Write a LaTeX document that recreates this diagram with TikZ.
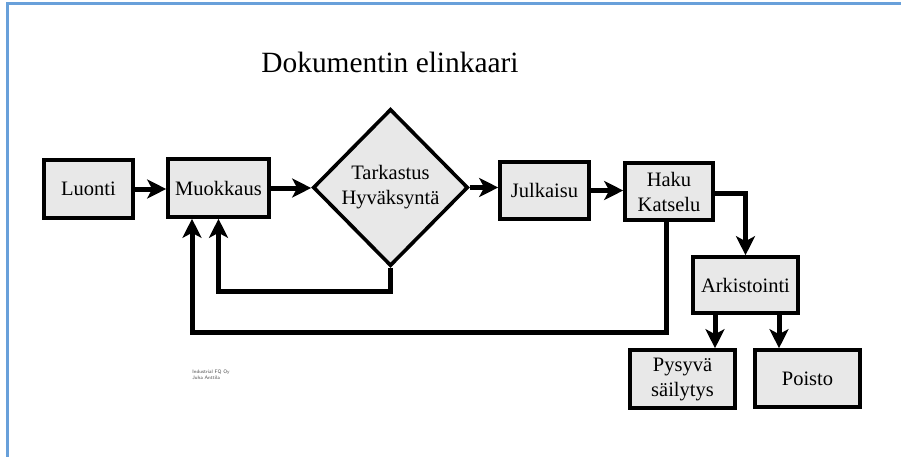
\documentclass[tikz,border=0pt]{standalone}
\usepackage{fontspec}
\setmainfont{Liberation Serif}
\usetikzlibrary{shapes.geometric,arrows.meta}
\definecolor{frameblue}{RGB}{104,160,218}
\definecolor{boxfill}{RGB}{232,232,232}
\begin{document}
\begin{tikzpicture}[x=1pt,y=-1pt,
  box/.style={draw=black,line width=3.6pt,fill=boxfill,inner sep=0pt,align=center,
    font=\fontsize{20.5}{25}\selectfont},
  dia/.style={box,shape=diamond},
  arr/.style={line width=5pt,line join=miter,-{Stealth[length=19pt,width=19pt,inset=5pt]}},
  lbl/.style={font=\fontsize{29.4}{34}\selectfont,inner sep=0pt}]
\useasboundingbox (0,0) rectangle (901,457);
\fill[white] (0,0) rectangle (901,457);
\draw[frameblue,line width=3pt] (7.5,457) -- (7.5,3.5) -- (901,3.5);
\node[lbl] (title) at (390,62) {Dokumentin elinkaari};
\node[box,minimum width=89pt,minimum height=58pt] (luo) at (88.5,189) {Luonti};
\node[box,minimum width=101pt,minimum height=58pt] (muo) at (218.5,188) {Muokkaus};
\node[dia,minimum width=155pt,minimum height=157pt] (tar) at (390.5,187.5) {Tarkastus\\Hyväksyntä};
\node[box,minimum width=89pt,minimum height=57pt] (jul) at (544.5,190.5) {Julkaisu};
\node[box,minimum width=88pt,minimum height=57pt] (hak) at (669,191.5) {Haku\\Katselu};
\node[box,minimum width=105pt,minimum height=56pt] (ark) at (745.5,285) {Arkistointi};
\node[box,minimum width=105pt,minimum height=58pt] (pys) at (682.5,379) {Pysyvä\\säilytys};
\node[box,minimum width=105pt,minimum height=57pt] (poi) at (807.5,378.5) {Poisto};
\node[font=\fontsize{5}{6}\selectfont\sffamily,align=left,text=black!70,inner sep=0pt] (cr) at (211,375) {Industrial FQ Oy\\Juha Anttila};
\draw[arr] (luo.east) -- (luo.east -| muo.west);
\draw[arr] (muo.east) -- (muo.east -| tar.west);
\draw[arr] (tar.east) -- (tar.east -| jul.west);
\draw[arr] (jul.east) -- (jul.east -| hak.west);
\coordinate (h1) at ([yshift=-2pt]hak.east);
\draw[arr] (h1) -| (ark.north);
\draw[arr] (tar.south) -- ++(0,24) -| (muo.south);
\coordinate (h2) at ([xshift=-3pt]hak.south);
\coordinate (m2) at ([xshift=-26.5pt]muo.south);
\draw[arr] (h2) -- ++(0,111) -| (m2);
\coordinate (a1) at ([xshift=-30.5pt]ark.south);
\coordinate (a2) at ([xshift=33.5pt]ark.south);
\draw[arr] (a1) -- (a1 |- pys.north);
\draw[arr] (a2) -- (a2 |- poi.north);
\end{tikzpicture}
\end{document}
